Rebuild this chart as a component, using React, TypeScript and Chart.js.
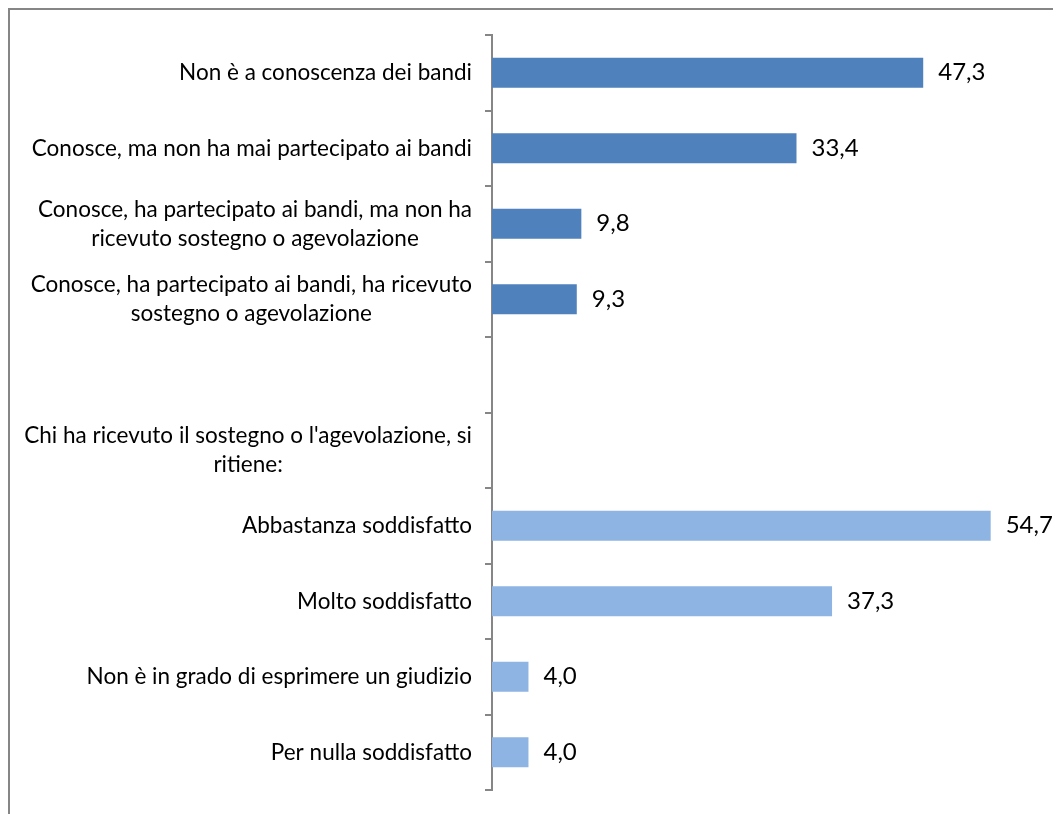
import React, { useEffect, useRef } from "react";
import { Chart, registerables } from "chart.js";

Chart.register(...registerables);

const categories: string[][] = [
  ["Non è a conoscenza dei bandi"],
  ["Conosce, ma non ha mai partecipato ai bandi"],
  ["Conosce, ha partecipato ai bandi, ma non ha", "ricevuto sostegno o agevolazione"],
  ["Conosce, ha partecipato ai bandi, ha ricevuto", "sostegno o agevolazione"],
  [""],
  ["Chi ha ricevuto il sostegno o l'agevolazione, si", "ritiene:"],
  ["Abbastanza soddisfatto"],
  ["Molto soddisfatto"],
  ["Non è in grado di esprimere un giudizio"],
  ["Per nulla soddisfatto"],
];

const values: (number | null)[] = [47.3, 33.4, 9.8, 9.3, null, null, 54.7, 37.3, 4.0, 4.0];

const groupOf: number[] = [0, 0, 0, 0, 0, 1, 1, 1, 1, 1];

const DARK = "#4F81BD";
const LIGHT = "#8EB4E3";
const FONT_FAMILY = "Lato, 'Open Sans', sans-serif";
const FONT_SIZE = 22.5;
const VALUE_FONT_SIZE = 24;

const labelPlugin = {
  id: "customLabels",
  afterDraw(chart: any) {
    const ctx = chart.ctx;
    const yScale = chart.scales.y;
    const xScale = chart.scales.x;
    ctx.save();
    ctx.font = `${FONT_SIZE}px ${FONT_FAMILY}`;
    ctx.fillStyle = "#000";
    ctx.textBaseline = "middle";
    ctx.textAlign = "center";
    const lineH = 29;
    const rightEdge = yScale.right - 20;
    categories.forEach((lines, i) => {
      const y = yScale.getPixelForTick(i);
      const maxW = Math.max(...lines.map((l) => ctx.measureText(l).width));
      const cx = rightEdge - maxW / 2;
      lines.forEach((l, j) => {
        ctx.fillText(l, cx, y + (j - (lines.length - 1) / 2) * lineH);
      });
    });
    // data labels
    ctx.font = `${VALUE_FONT_SIZE}px ${FONT_FAMILY}`;
    ctx.textAlign = "left";
    values.forEach((v, i) => {
      if (v === null) return;
      const x = xScale.getPixelForValue(v) + 15;
      const y = yScale.getPixelForTick(i);
      ctx.fillText(v.toFixed(1).replace(".", ","), x, y);
    });
    ctx.restore();
  },
};

export default function App() {
  const ref = useRef<HTMLCanvasElement | null>(null);
  useEffect(() => {
    document.documentElement.style.overflow = "hidden";
    document.body.style.overflow = "hidden";
    if (!ref.current) return;
    const chart = new Chart(ref.current, {
      type: "bar",
      data: {
        labels: categories.map((c) => c.join(" ")),
        datasets: [
          {
            data: values as any,
            backgroundColor: groupOf.map((g) => (g === 0 ? DARK : LIGHT)),
            borderWidth: 0,
            barPercentage: 0.4,
            categoryPercentage: 1,
          },
        ],
      },
      options: {
        indexAxis: "y",
        animation: false,
        responsive: false,
        maintainAspectRatio: false,
        layout: { padding: { top: 25, bottom: 26, right: 29, left: 0 } },
        plugins: { legend: { display: false }, tooltip: { enabled: false } },
        scales: {
          x: { display: false, min: 0, max: 60 },
          y: {
            afterFit: (scale: any) => {
              scale.width = 482;
            },
            ticks: { display: false },
            grid: {
              drawOnChartArea: false,
              drawTicks: true,
              tickLength: 7,
              color: "#868686",
              lineWidth: 2,
              offset: true,
            },
            border: { display: true, color: "#868686", width: 2 },
          },
        },
      },
      plugins: [labelPlugin],
    });
    return () => chart.destroy();
  }, []);
  return (
    <div
      style={{
        width: 1058,
        height: 806,
        borderLeft: "2px solid #868686",
        borderTop: "2px solid #868686",
        background: "#fff",
      }}
    >
      <canvas ref={ref} width={1058} height={806} style={{ display: "block" }} />
    </div>
  );
}
